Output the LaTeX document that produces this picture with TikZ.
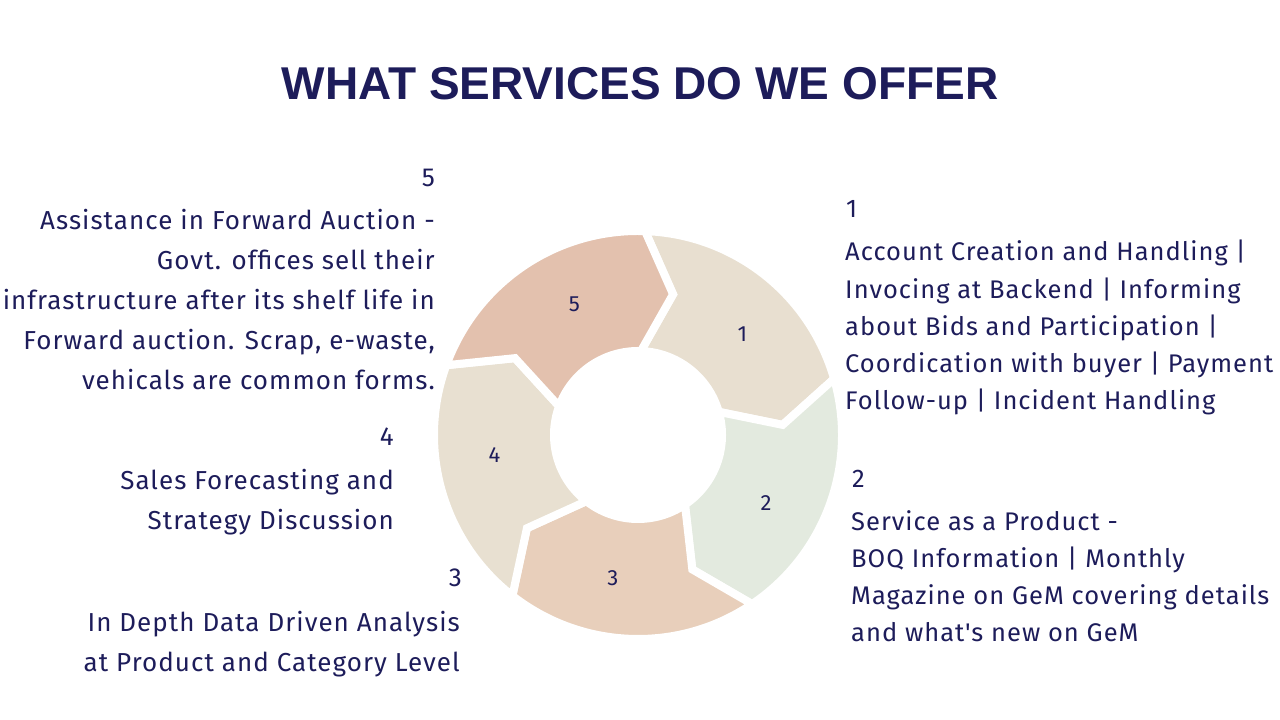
\documentclass[tikz,border=0pt]{standalone}
\usepackage{fontspec}
\setmainfont{Fira Sans}[LetterSpace=4, Ligatures=TeXOff]
\newfontfamily\titlefont{Liberation Sans}
\definecolor{navy}{RGB}{29,28,90}
\definecolor{segA}{RGB}{232,223,208}
\definecolor{segB}{RGB}{227,234,223}
\definecolor{segC}{RGB}{232,207,187}
\definecolor{segD}{RGB}{232,224,209}
\definecolor{segE}{RGB}{227,193,174}
\newcommand{\ringsegment}[3]{% start angle, colour, label
  \fill[#2, draw=white, line width=8pt]
    ([shift={(ctr)}]#1:204pt) arc[start angle=#1, end angle=#1-72, radius=204pt]
    -- ([shift={(ctr)}]#1-84:145pt)
    -- ([shift={(ctr)}]#1-72:84pt) arc[start angle=#1-72, end angle=#1, radius=84pt]
    -- ([shift={(ctr)}]#1-12:145pt) -- cycle;
  \node[seglabel] (s#3) at ([shift={(ctr)}]#1-44:145pt) {#3};
}
\begin{document}
\begin{tikzpicture}[x=1pt,y=1pt,
  every node/.style={text=navy},
  heading/.style={font=\titlefont\bfseries\fontsize{46}{52}\selectfont, inner sep=0pt},
  numl/.style={font=\fontsize{26}{30}\selectfont, inner sep=0pt},
  numr/.style={font=\fontsize{25.5}{30}\selectfont, inner sep=0pt},
  descl/.style={font=\fontsize{26}{40}\selectfont, inner sep=0pt, align=right},
  descr/.style={font=\fontsize{25.5}{37.3}\selectfont, inner sep=0pt, align=left},
  seglabel/.style={font=\fontsize{22}{25}\selectfont, inner sep=0pt}
]
\useasboundingbox (0,0) rectangle (1280,720);
\coordinate (ctr) at (638,285);

% title
\node[heading, anchor=base] (title) at (640,620) {WHAT SERVICES DO WE OFFER};

% ring of arrows
\foreach \a/\c/\n in {88/segA/1, 16/segB/2, -56/segC/3, -128/segD/4, 160/segE/5}
  \ringsegment{\a}{\c}{\n};

% left column
\node[numl, anchor=base east] (n5) at (435,533) {5};
\node[descl, anchor=base east] (t5) at (435,330)
  {Assistance in Forward Auction -\\ Govt. offices sell their\\ infrastructure after its shelf life in\\ Forward auction. Scrap, e-waste,\\ vehicals are common forms.};
\node[numl, anchor=base east] (n4) at (394,274) {4};
\node[descl, anchor=base east] (t4) at (394,190)
  {Sales Forecasting and\\ Strategy Discussion};
\node[numl, anchor=base east] (n3) at (462,133) {3};
\node[descl, anchor=base east] (t3) at (460,48)
  {In Depth Data Driven Analysis\\ at Product and Category Level};

% right column
\node[numr, anchor=base west] (n1) at (846,502) {1};
\node[descr, anchor=base west] (t1) at (845,310)
  {Account Creation and Handling |\\ Invocing at Backend | Informing\\ about Bids and Participation |\\ Coordication with buyer | Payment\\ Follow-up | Incident Handling};
\node[numr, anchor=base west] (n2) at (852,232) {2};
\node[descr, anchor=base west] (t2) at (851,78)
  {Service as a Product -\\ BOQ Information | Monthly\\ Magazine on GeM covering details\\ and what's new on GeM};
\end{tikzpicture}
\end{document}
